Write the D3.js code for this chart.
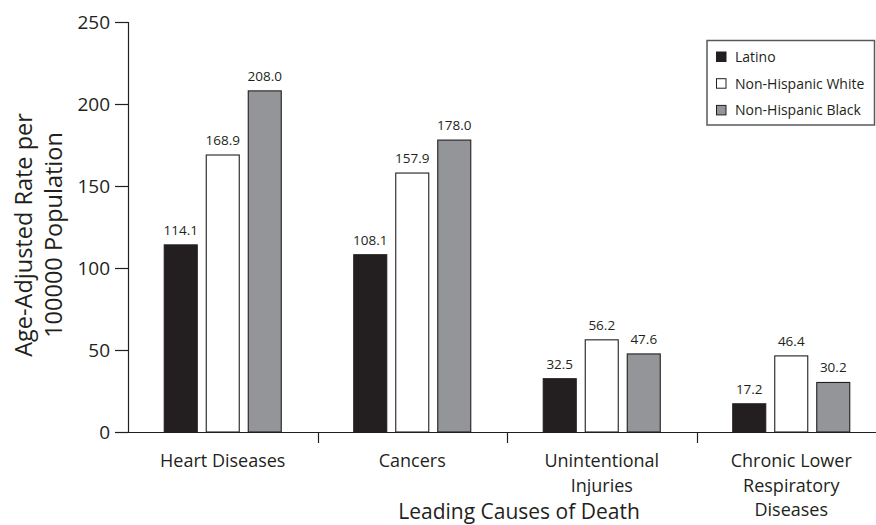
<!DOCTYPE html>
<html>
<head>
<meta charset="utf-8">
<script src="https://cdn.jsdelivr.net/npm/d3@7/dist/d3.min.js"></script>
<style>
  html, body { margin: 0; padding: 0; background: #fff; }
  svg { display: block; }
  text { font-family: "Open Sans", sans-serif; fill: #231f20; }
</style>
</head>
<body>
<svg id="chart" width="876" height="525"></svg>
<script>
// ---- data ----
const categories = [["Heart Diseases"], ["Cancers"], ["Unintentional", "Injuries"], ["Chronic Lower", "Respiratory", "Diseases"]];
const series = ["Latino", "Non-Hispanic White", "Non-Hispanic Black"];
const latino = [114.1, 108.1, 32.5, 17.2];
const nhWhite = [168.9, 157.9, 56.2, 46.4];
const nhBlack = [208.0, 178.0, 47.6, 30.2];
const yTicks = [0, 50, 100, 150, 200, 250];
const colors = ["#231f20", "#ffffff", "#939598"];

const values = [latino, nhWhite, nhBlack];
const catKeys = categories.map(c => c.join(" "));

const svg = d3.select("#chart");
const ink = "#231f20";

const x0 = d3.scaleBand().domain(catKeys).range([128, 886]).paddingInner(0).paddingOuter(0);
const x1 = d3.scaleBand().domain(series).range([0, x0.bandwidth()]).paddingInner(0.1905).paddingOuter(0.851);
const y = d3.scaleLinear().domain([0, 250]).range([432, 22]);

// y axis
const yAxis = d3.axisLeft(y).tickValues(yTicks).tickSize(13).tickPadding(5).tickFormat(d3.format("d"));
const gy = svg.append("g").attr("transform", "translate(128,0)").call(yAxis);
gy.select(".domain").attr("stroke", ink).attr("stroke-width", 1.2).attr("d", "M-13,22.5H0.5V432.5");
gy.selectAll(".tick line").attr("stroke", ink).attr("stroke-width", 1.2);
gy.selectAll(".tick text").style("font-size", "19px").style("font-family", "'Open Sans', sans-serif").attr("fill", ink);

// x axis baseline and separators
svg.append("line").attr("x1", 128).attr("x2", 876).attr("y1", 432.5).attr("y2", 432.5)
  .attr("stroke", ink).attr("stroke-width", 1.2);
svg.selectAll(".sep").data(catKeys.slice(1)).enter().append("line")
  .attr("class", "sep")
  .attr("x1", d => Math.round(x0(d)) + 0.5).attr("x2", d => Math.round(x0(d)) + 0.5)
  .attr("y1", 432).attr("y2", 443).attr("stroke", ink).attr("stroke-width", 1.2);

// bars
const groups = svg.selectAll(".grp").data(catKeys).enter().append("g")
  .attr("class", "grp").attr("transform", d => `translate(${x0(d)},0)`);

groups.each(function(cat, ci) {
  const g = d3.select(this);
  series.forEach((s, si) => {
    const v = values[si][ci];
    g.append("rect")
      .attr("x", x1(s) + 0.5)
      .attr("y", y(v))
      .attr("width", x1.bandwidth() - 1)
      .attr("height", y(0) - y(v))
      .attr("fill", colors[si])
      .attr("stroke", ink)
      .attr("stroke-width", 1.1);
    g.append("text")
      .attr("x", x1(s) + x1.bandwidth() / 2)
      .attr("y", y(v) - 10)
      .attr("text-anchor", "middle")
      .style("font-size", "13.5px")
      .text(v.toFixed(1));
  });
});

// category labels
categories.forEach((lines, ci) => {
  const cx = x0(catKeys[ci]) + x0.bandwidth() / 2;
  lines.forEach((ln, li) => {
    svg.append("text")
      .attr("x", cx)
      .attr("y", 467 + li * 24.5)
      .attr("text-anchor", "middle")
      .style("font-size", "18px")
      .text(ln);
  });
});

// x axis title
svg.append("text").attr("x", 519).attr("y", 519).attr("text-anchor", "middle")
  .style("font-size", "21px").text("Leading Causes of Death");

// y axis title
const yTitle = ["Age-Adjusted Rate per", "100000 Population"];
yTitle.forEach((ln, i) => {
  svg.append("text")
    .attr("transform", `translate(${32 + i * 30},235) rotate(-90)`)
    .attr("text-anchor", "middle")
    .style("font-size", "23.5px")
    .text(ln);
});

// legend
const lg = svg.append("g");
lg.append("rect").attr("x", 707).attr("y", 40.5).attr("width", 167.5).attr("height", 84.5)
  .attr("fill", "#fff").attr("stroke", "#58595b").attr("stroke-width", 1.5);
series.forEach((s, i) => {
  const cy = 57 + i * 26.7;
  lg.append("rect").attr("x", 716.5).attr("y", cy - 5).attr("width", 9.5).attr("height", 9.5)
    .attr("fill", colors[i]).attr("stroke", ink).attr("stroke-width", 1);
  lg.append("text").attr("x", 735).attr("y", cy + 5).style("font-size", "14px").text(s);
});
</script>
</body>
</html>
